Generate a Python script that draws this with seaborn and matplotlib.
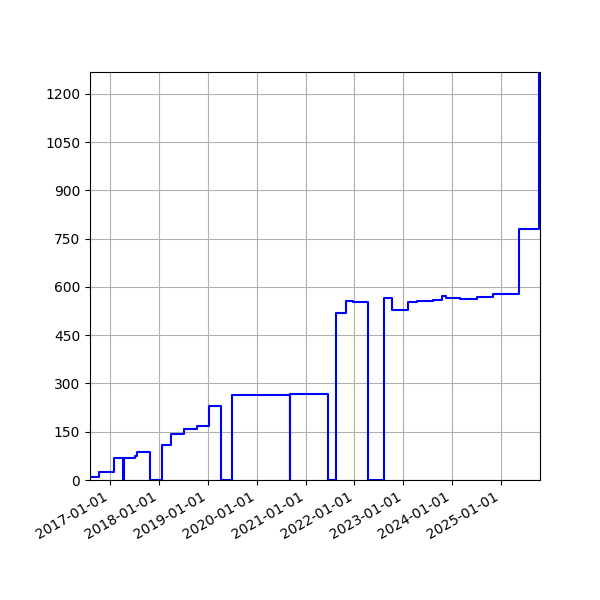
import matplotlib
matplotlib.use("Agg")
import matplotlib.pyplot as plt
import matplotlib.dates as mdates
import seaborn as sns
import pandas as pd

dates = [
    "2016-08-03", "2016-10-08", "2017-01-28", "2017-04-08", "2017-04-11",
    "2017-07-03", "2017-07-20", "2017-10-23", "2018-01-23", "2018-04-03",
    "2018-07-06", "2018-10-09", "2019-01-08", "2019-04-06", "2019-06-30",
    "2020-04-30", "2020-09-06", "2020-09-09", "2021-06-20", "2021-08-16",
    "2021-10-27", "2021-12-18", "2022-04-10", "2022-08-10", "2022-10-09",
    "2023-02-07", "2023-04-10", "2023-08-12", "2023-10-19", "2023-11-13",
    "2024-02-28", "2024-07-02", "2024-11-04", "2025-05-17", "2025-10-12",
    "2025-10-19",
]
values = [
    10, 26, 68, 0, 68,
    74, 88, 0, 109, 142,
    158, 168, 229, 0, 263,
    265, 0, 266, 0, 518,
    557, 552, 0, 565, 529,
    554, 555, 560, 571, 566,
    564, 570, 577, 780, 1268,
    1268,
]

df = pd.DataFrame({"date": pd.to_datetime(dates), "value": values})

sns.set_style("ticks")
fig = plt.figure(figsize=(6, 6), dpi=100)
ax = fig.add_axes([0.15, 0.2, 0.75, 0.68])
sns.lineplot(data=df, x="date", y="value", ax=ax, color="blue",
             drawstyle="steps-post", linewidth=1.5)
ax.set_xlim(df["date"].iloc[0], df["date"].iloc[-1])
ax.set_ylim(0, max(values))
ax.set_yticks(range(0, 1201, 150))
ax.xaxis.set_major_locator(mdates.YearLocator())
ax.xaxis.set_major_formatter(mdates.DateFormatter("%Y-%m-%d"))
ax.grid(True, color="#b0b0b0", linewidth=0.8)
ax.set_xlabel("")
ax.set_ylabel("")
for s in ax.spines.values():
    s.set_visible(True)
    s.set_color("black")
    s.set_linewidth(0.8)
for lbl in ax.get_xticklabels():
    lbl.set_rotation(30)
    lbl.set_ha("right")
ax.tick_params(direction="out", length=3.5, width=0.8, colors="black", labelsize=10)
fig.savefig("out.png", dpi=100)
